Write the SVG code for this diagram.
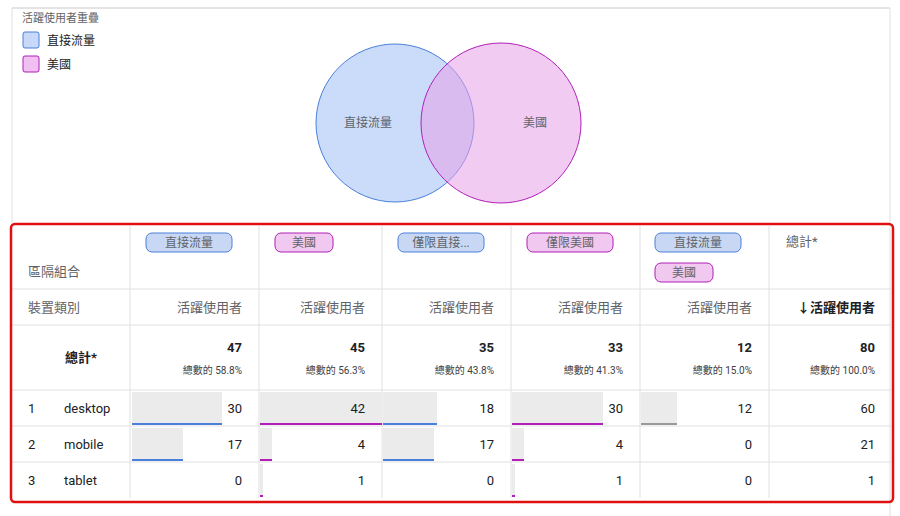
<svg xmlns="http://www.w3.org/2000/svg" width="900" height="516" viewBox="0 0 900 516">
<style>
text{font-family:Roboto,"Noto Sans CJK TC",sans-serif;fill:#3c4043}
.s{font-size:12px;fill:#5f6368}
.h{font-size:13px;fill:#5f6368;text-anchor:end}
.n{font-size:13px;text-anchor:end;fill:#202124}
.b{font-size:13px;font-weight:bold;text-anchor:end;fill:#202124}
.p{font-size:10px;text-anchor:end;fill:#3c4043}
.g{stroke:#e0e0e0;stroke-width:1}
.bar{fill:#ebebeb}
.chipB{fill:#c8d8f4;stroke:#4a7fdb}
.chipP{fill:#f0c8f0;stroke:#b020b8}
.ct{font-size:12px;fill:#5f6368;text-anchor:middle}
</style>
<rect width="900" height="516" fill="#fff"/>
<line x1="12" y1="8" x2="890" y2="8" stroke="#c8c8c8"/>
<line x1="12" y1="8" x2="12" y2="224" class="g"/>
<line x1="890" y1="8" x2="890" y2="516" class="g"/>
<g id="legend">
<text x="22" y="22" class="s" style="font-size:11px">活躍使用者重疊</text>
<rect x="23" y="32" width="16" height="16" rx="2" fill="#c8d8f8" stroke="#4a7fdb"/>
<text x="47" y="45" style="font-size:12px;fill:#202124">直接流量</text>
<rect x="23" y="56" width="16" height="16" rx="2" fill="#f0c0f0" stroke="#b020b8"/>
<text x="47" y="69" style="font-size:12px;fill:#202124">美國</text>
</g>
<g id="venn">
<circle cx="395" cy="123" r="79" fill="#a8c4f8" fill-opacity="0.6" stroke="#4a7fdb"/>
<circle cx="501" cy="123" r="80" fill="#e8a0e8" fill-opacity="0.55" stroke="#b020b8"/>
<text x="344" y="127" class="s">直接流量</text>
<text x="523" y="127" class="s">美國</text>
</g>
<g id="table">
<g class="g">
<line x1="130" y1="226" x2="130" y2="498"/><line x1="259" y1="226" x2="259" y2="498"/>
<line x1="382" y1="226" x2="382" y2="498"/><line x1="511" y1="226" x2="511" y2="498"/>
<line x1="640" y1="226" x2="640" y2="498"/><line x1="769" y1="226" x2="769" y2="498"/>
<line x1="12" y1="289" x2="891" y2="289"/><line x1="12" y1="325" x2="891" y2="325"/>
<line x1="12" y1="390" x2="891" y2="390"/><line x1="12" y1="426" x2="891" y2="426"/>
<line x1="12" y1="462" x2="891" y2="462"/>
</g>
<rect x="146" y="233" width="86" height="19" rx="6" class="chipB"/><text x="189" y="247" class="ct">直接流量</text>
<rect x="275" y="233" width="58" height="19" rx="6" class="chipP"/><text x="304" y="247" class="ct">美國</text>
<rect x="398" y="233" width="86" height="19" rx="6" class="chipB"/><text x="441" y="247" class="ct">僅限直接...</text>
<rect x="527" y="233" width="86" height="19" rx="6" class="chipP"/><text x="570" y="247" class="ct">僅限美國</text>
<rect x="655" y="233" width="86" height="19" rx="6" class="chipB"/><text x="698" y="247" class="ct">直接流量</text>
<rect x="655" y="263" width="58" height="19" rx="6" class="chipP"/><text x="684" y="277" class="ct">美國</text>
<text x="786" y="246" class="s" style="font-size:13px">總計*</text>
<text x="28" y="276" class="s" style="font-size:13px">區隔組合</text>
<text x="28" y="312" class="s" style="font-size:13px">裝置類別</text>
<text x="242" y="312" class="h">活躍使用者</text><text x="365" y="312" class="h">活躍使用者</text>
<text x="494" y="312" class="h">活躍使用者</text><text x="623" y="312" class="h">活躍使用者</text>
<text x="752" y="312" class="h">活躍使用者</text><text x="875" y="312" class="b">↓活躍使用者</text>
<text x="65" y="362" style="font-size:13px;font-weight:bold;fill:#202124">總計*</text>
<text x="242" y="352" class="b">47</text><text x="242" y="374" class="p">總數的 58.8%</text>
<text x="365" y="352" class="b">45</text><text x="365" y="374" class="p">總數的 56.3%</text>
<text x="494" y="352" class="b">35</text><text x="494" y="374" class="p">總數的 43.8%</text>
<text x="623" y="352" class="b">33</text><text x="623" y="374" class="p">總數的 41.3%</text>
<text x="752" y="352" class="b">12</text><text x="752" y="374" class="p">總數的 15.0%</text>
<text x="875" y="352" class="b">80</text><text x="875" y="374" class="p">總數的 100.0%</text>
<rect x="132" y="392" width="90" height="33" class="bar"/><rect x="132" y="423" width="90" height="2" fill="#4a7fdb"/>
<rect x="132" y="428" width="51" height="33" class="bar"/><rect x="132" y="459" width="51" height="2" fill="#4a7fdb"/>
<rect x="260" y="392" width="122" height="33" class="bar"/><rect x="260" y="423" width="122" height="2" fill="#b020b8"/>
<rect x="260" y="428" width="12" height="33" class="bar"/><rect x="260" y="459" width="12" height="2" fill="#b020b8"/>
<rect x="260" y="464" width="3" height="33" class="bar"/><rect x="260" y="495" width="3" height="2" fill="#b020b8"/>
<rect x="383" y="392" width="54" height="33" class="bar"/><rect x="383" y="423" width="54" height="2" fill="#4a7fdb"/>
<rect x="383" y="428" width="51" height="33" class="bar"/><rect x="383" y="459" width="51" height="2" fill="#4a7fdb"/>
<rect x="512" y="392" width="91" height="33" class="bar"/><rect x="512" y="423" width="91" height="2" fill="#b020b8"/>
<rect x="512" y="428" width="12" height="33" class="bar"/><rect x="512" y="459" width="12" height="2" fill="#b020b8"/>
<rect x="512" y="464" width="3" height="33" class="bar"/><rect x="512" y="495" width="3" height="2" fill="#b020b8"/>
<rect x="641" y="392" width="36" height="33" class="bar"/><rect x="641" y="423" width="36" height="2" fill="#999"/>
<text x="28" y="413" style="font-size:13px;fill:#202124">1</text><text x="64" y="413" style="font-size:13px;fill:#202124">desktop</text>
<text x="28" y="449" style="font-size:13px;fill:#202124">2</text><text x="64" y="449" style="font-size:13px;fill:#202124">mobile</text>
<text x="28" y="485" style="font-size:13px;fill:#202124">3</text><text x="64" y="485" style="font-size:13px;fill:#202124">tablet</text>
<text x="242" y="413" class="n">30</text><text x="365" y="413" class="n">42</text><text x="494" y="413" class="n">18</text><text x="623" y="413" class="n">30</text><text x="752" y="413" class="n">12</text><text x="875" y="413" class="n">60</text>
<text x="242" y="449" class="n">17</text><text x="365" y="449" class="n">4</text><text x="494" y="449" class="n">17</text><text x="623" y="449" class="n">4</text><text x="752" y="449" class="n">0</text><text x="875" y="449" class="n">21</text>
<text x="242" y="485" class="n">0</text><text x="365" y="485" class="n">1</text><text x="494" y="485" class="n">0</text><text x="623" y="485" class="n">1</text><text x="752" y="485" class="n">0</text><text x="875" y="485" class="n">1</text>
<rect x="11" y="224" width="882" height="278" rx="4" fill="none" stroke="#e01010" stroke-width="2.5"/>
</g>
</svg>
